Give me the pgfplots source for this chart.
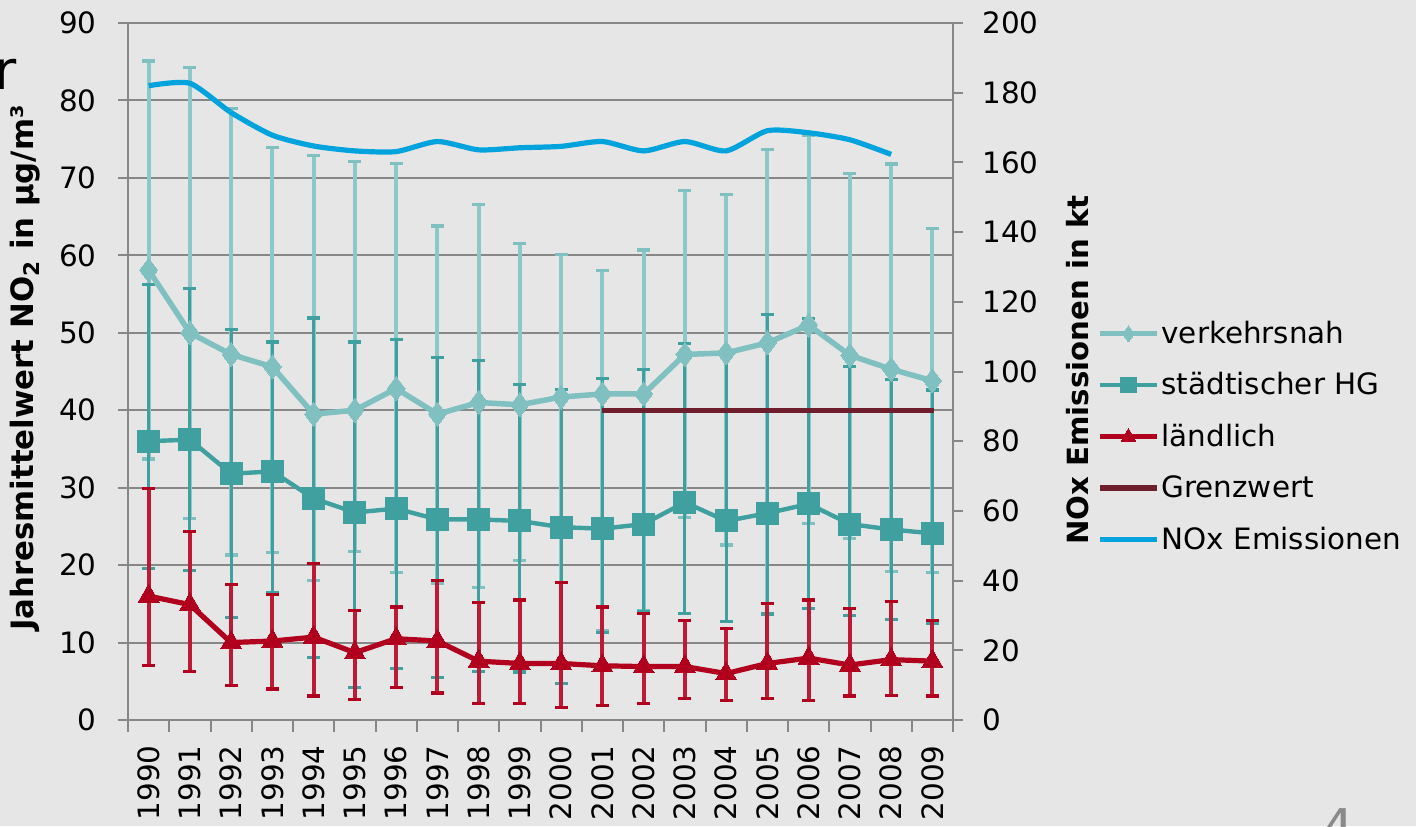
\documentclass[border=0pt]{standalone}
\usepackage{fontspec}
\setmainfont{DejaVu Sans}
\usepackage{pgfplots}
\pgfplotsset{compat=1.18}
\usepackage{pgfplotstable}
\definecolor{bg}{HTML}{E6E6E6}
\definecolor{axgray}{HTML}{878787}
\definecolor{verk}{HTML}{80C0C0}
\definecolor{verkbar}{HTML}{8CC8C8}
\definecolor{stadt}{HTML}{40A0A0}
\definecolor{land}{HTML}{B0001E}
\definecolor{landbar}{HTML}{BC1A36}
\definecolor{grenz}{HTML}{6E1E2D}
\definecolor{nox}{HTML}{00A3DC}
\definecolor{pgnum}{HTML}{8A8A8A}

\pgfplotstableread{
x v vh vl s sh sl l lh ll
0 58.1 85.1 33.7 36.0 56.2 19.6 16.0 29.9 7.0
1 50.0 84.3 26.0 36.2 55.7 19.3 14.9 24.3 6.3
2 47.2 79.0 21.3 31.8 50.4 13.2 10.0 17.5 4.5
3 45.6 73.9 21.6 32.1 48.8 16.4 10.2 16.2 4.0
4 39.5 72.9 18.0 28.6 51.9 8.1 10.7 20.2 3.1
5 40.0 72.1 21.8 26.8 48.8 4.2 8.7 14.1 2.6
6 42.8 71.9 19.0 27.3 49.1 6.6 10.5 14.6 4.2
7 39.5 63.8 17.6 25.9 46.8 5.5 10.2 18.0 3.5
8 41.0 66.6 17.1 25.9 46.4 6.3 7.6 15.2 2.1
9 40.7 61.5 20.6 25.7 43.3 6.2 7.3 15.5 2.1
10 41.7 60.1 17.8 24.9 42.7 4.7 7.3 17.8 1.6
11 42.1 58.0 11.5 24.7 44.1 11.3 7.0 14.6 1.9
12 42.1 60.7 14.1 25.3 45.3 14.0 6.9 13.8 2.1
13 47.2 68.4 26.1 28.1 48.6 13.8 6.9 12.8 2.8
14 47.4 67.9 22.6 25.7 47.0 12.7 6.0 11.8 2.5
15 48.7 73.7 15.0 26.7 52.4 13.7 7.3 15.0 2.8
16 51.0 75.5 25.4 27.9 51.8 14.4 8.0 15.5 2.5
17 47.1 70.6 23.4 25.3 45.6 13.5 7.1 14.4 3.1
18 45.3 71.8 19.2 24.6 44.0 13.0 7.8 15.3 3.2
19 43.8 63.5 19.0 24.1 42.6 12.5 7.6 12.8 3.1
}\data

\pgfplotstableread{
x n
0 182.0
1 182.7
2 174.3
3 167.8
4 164.7
5 163.3
6 163.1
7 166.0
8 163.6
9 164.2
10 164.6
11 166.0
12 163.3
13 166.0
14 163.3
15 169.1
16 168.5
17 166.5
18 162.3
}\noxdata

\begin{document}
\begin{tikzpicture}
\fill[bg] (0,0) rectangle (708pt,413pt);
\useasboundingbox (0,0) rectangle (708pt,413pt);

\begin{axis}[
  at={(64pt,53pt)}, anchor=south west, scale only axis,
  width=412.5pt, height=348.5pt,
  xmin=-0.5, xmax=19.5, ymin=0, ymax=90,
  axis x line*=bottom, axis y line*=left,
  axis line style={draw=axgray, line width=1pt},
  tick align=outside, major tick length=5pt, minor tick length=6pt,
  tick style={draw=axgray, line width=1pt},
  xtick={0,...,19},
  xticklabels={1990,1991,1992,1993,1994,1995,1996,1997,1998,1999,2000,2001,2002,2003,2004,2005,2006,2007,2008,2009},
  major x tick style={draw=none},
  minor xtick={-0.5,0.5,...,19.5},
  ytick={0,10,...,90},
  ymajorgrids, grid style={draw=axgray, line width=1pt},
  tick label style={font=\fontsize{14.7}{17}\selectfont},
  /pgf/number format/assume math mode=true,
  xticklabel style={rotate=90, anchor=east, inner sep=0pt, xshift=-7.5pt},
  yticklabel style={anchor=east, inner sep=0pt, xshift=-10.5pt},
  clip=false,
]
% error bars first
\addplot[draw=none, mark=none, forget plot,
  error bars/.cd, y dir=both, y explicit, error mark=|,
  error bar style={draw=verkbar, line width=2pt},
  error mark options={draw=verk, line width=1.6pt, mark size=3.2pt}]
  table[x=x, y=v, y error plus expr=\thisrow{vh}-\thisrow{v}, y error minus expr=\thisrow{v}-\thisrow{vl}] {\data};
\addplot[draw=none, mark=none, forget plot,
  error bars/.cd, y dir=both, y explicit, error mark=|,
  error bar style={draw=stadt, line width=1.6pt},
  error mark options={draw=stadt, line width=1.6pt, mark size=3.2pt}]
  table[x=x, y=s, y error plus expr=\thisrow{sh}-\thisrow{s}, y error minus expr=\thisrow{s}-\thisrow{sl}] {\data};
\addplot[draw=none, mark=none, forget plot,
  error bars/.cd, y dir=both, y explicit, error mark=|,
  error bar style={draw=landbar, line width=1.9pt},
  error mark options={draw=land, line width=1.6pt, mark size=3.2pt}]
  table[x=x, y=l, y error plus expr=\thisrow{lh}-\thisrow{l}, y error minus expr=\thisrow{l}-\thisrow{ll}] {\data};
% lines
\addplot[verk, line width=2.75pt, mark=diamond*, mark size=6pt,
  mark options={solid, fill=verk, draw=verk, line width=0pt}] table[x=x, y=v] {\data};
\addplot[stadt, line width=2.2pt, mark=square*, mark size=5.5pt,
  mark options={solid, fill=stadt, draw=stadt, line width=0pt}] table[x=x, y=s] {\data};
\addplot[land, line width=2.6pt, mark=triangle*, mark size=6pt,
  mark options={solid, fill=land, draw=land, line width=0pt}] table[x=x, y=l] {\data};
\addplot[grenz, line width=2.6pt, mark=none] coordinates {(11,40) (19.05,40)};
\end{axis}

\begin{axis}[
  at={(64pt,53pt)}, anchor=south west, scale only axis,
  width=412.5pt, height=348.5pt,
  xmin=-0.5, xmax=19.5, ymin=0, ymax=200,
  axis y line*=right, axis x line=none,
  axis line style={draw=axgray, line width=1pt},
  tick align=outside, major tick length=5pt,
  tick style={draw=axgray, line width=1pt},
  ytick={0,20,...,200},
  tick label style={font=\fontsize{14.7}{17}\selectfont},
  /pgf/number format/assume math mode=true,
  yticklabel style={anchor=west, inner sep=0pt, xshift=9.5pt},
  legend style={at={(1.1745,0.4067)}, anchor=west, draw=none, fill=none,
    font=\fontsize{14.7}{17}\selectfont, row sep=11.1pt, inner sep=0pt,
    nodes={inner sep=1pt}},
  legend cell align=left,
  legend image code/.code={\draw[mark repeat=2, mark phase=2, #1] plot coordinates {(0pt,0pt) (14.25pt,0pt) (28.5pt,0pt)};},
  clip=false,
]
\addlegendimage{verk, line width=2.5pt, mark=diamond*, mark size=4pt, mark options={solid, fill=verk, draw=verk, line width=0pt}}
\addlegendentry{verkehrsnah}
\addlegendimage{stadt, line width=2.2pt, mark=square*, mark size=3.8pt, mark options={solid, fill=stadt, draw=stadt, line width=0pt}}
\addlegendentry{städtischer HG}
\addlegendimage{land, line width=2.5pt, mark=triangle*, mark size=4.2pt, mark options={solid, fill=land, draw=land, line width=0pt}}
\addlegendentry{ländlich}
\addlegendimage{grenz, line width=2.6pt}
\addlegendentry{Grenzwert}
\addplot[nox, line width=2.6pt, mark=none, smooth, tension=0.4] table[x=x, y=n] {\noxdata};
\addlegendentry{NOx Emissionen}
\end{axis}

\node[rotate=90, inner sep=0pt, font=\fontsize{15.4}{18}\selectfont\bfseries] at (12.5pt,229pt) {Jahresmittelwert NO\textsubscript{2} in µg/m³};
\node[rotate=90, inner sep=0pt, font=\fontsize{14.6}{17}\selectfont\bfseries] at (539pt,228pt) {NOx Emissionen in kt};
\node[anchor=base east, inner sep=0pt, font=\fontsize{27}{30}\selectfont] at (8.5pt,368pt) {r};
\node[anchor=north, inner sep=0pt, text=pgnum, font=\fontsize{26}{30}\selectfont] at (669pt,9pt) {4};
\end{tikzpicture}
\end{document}
